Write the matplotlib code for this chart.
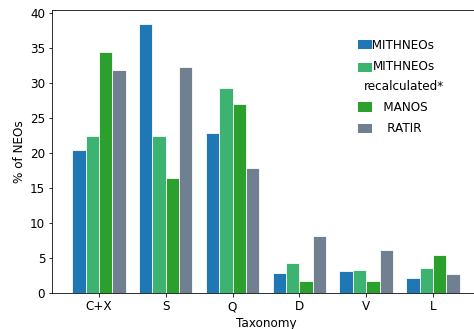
import matplotlib
matplotlib.use('Agg')
import matplotlib.pyplot as plt
from matplotlib.patches import Rectangle
from matplotlib.legend_handler import HandlerPatch
import numpy as np

categories = ['C+X', 'S', 'Q', 'D', 'V', 'L']
mithneos = [20.5, 38.5, 22.8, 2.8, 3.1, 2.1]
mithneos_recalc = [22.5, 22.5, 29.3, 4.3, 3.3, 3.6]
manos = [34.5, 16.5, 27.0, 1.7, 1.7, 5.5]
ratir = [31.8, 32.3, 17.9, 8.1, 6.1, 2.7]

series = [mithneos, mithneos_recalc, manos, ratir]
labels = ['  MITHNEOs', 'MITHNEOs\nrecalculated*', '     MANOS', '      RATIR']
colors = ['#1f77b4', '#3cb371', '#2ca02c', '#708090']

plt.rcParams['font.size'] = 12

fig = plt.figure(figsize=(474 / 72, 329 / 72), dpi=72)
ax = fig.add_axes([52.2 / 474, 36 / 329, 427.5 / 474, 283.5 / 329])

ind = np.arange(len(categories))
width = 0.2
offsets = [-0.3, -0.1, 0.1, 0.3]
for vals, lab, col, off in zip(series, labels, colors, offsets):
    ax.bar(ind + off, vals, width, color=col, edgecolor='white', linewidth=0.8, label=lab)

ax.set_xlim(-0.7, 5.7)
ax.set_ylim(0, 40.5)
ax.set_yticks(np.arange(0, 41, 5))
ax.set_xticks(ind)
ax.set_xticklabels(categories)
ax.spines['right'].set_visible(False)
ax.set_xlabel('Taxonomy')
ax.set_ylabel('% of NEOs')


# legend patch of the two-line entry sits on the first line
def first_line_patch(legend, orig_handle, xdescent, ydescent, width, height, fontsize):
    return Rectangle((-xdescent, -ydescent + 9.8), width, height)


handles = []
for col in colors:
    handles.append(Rectangle((0, 0), 1, 1, facecolor=col, edgecolor='none'))

leg = ax.legend(handles, labels, frameon=False, loc='upper left',
                bbox_to_anchor=(347 / 474, 1 - 28 / 329), bbox_transform=fig.transFigure,
                handlelength=1.2, handleheight=0.85, handletextpad=-0.7, labelspacing=0.7,
                handler_map={handles[1]: HandlerPatch(patch_func=first_line_patch)})
for t in leg.get_texts():
    t.set_multialignment('center')
    t.set_linespacing(1.65)

fig.savefig('out.png', dpi=72)
